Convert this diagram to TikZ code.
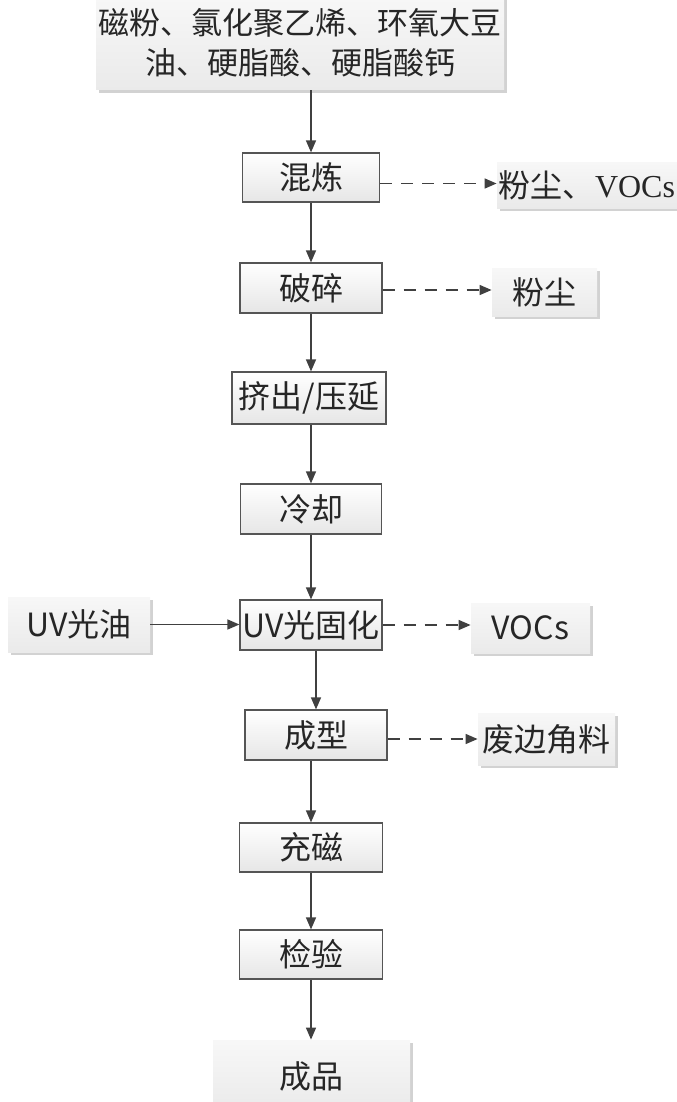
\documentclass[tikz,border=0pt]{standalone}
\usepackage{fontspec}
\setmainfont{Liberation Serif}
\newfontfamily\cjk{Noto Sans CJK SC}
\usetikzlibrary{arrows.meta,shadows}
\definecolor{edge}{HTML}{555555}
\definecolor{arrowc}{HTML}{404040}
\definecolor{shadeB}{HTML}{E6E6E6}
\definecolor{sideB}{HTML}{EAEAEA}
\definecolor{shad}{HTML}{D2D2D2}
\begin{document}
\begin{tikzpicture}[x=0.5pt,y=-0.5pt,
  every node/.style={font=\cjk\fontsize{16}{20}\selectfont,inner sep=0pt,text=black!85},
  proc/.style={draw=edge,line width=0.6pt,top color=white,bottom color=shadeB},
  side/.style={top color=white!97!black,bottom color=sideB,
    drop shadow={shadow xshift=1.5pt,shadow yshift=-1.5pt,fill=shad,opacity=1}},
  arr/.style={draw=arrowc,line width=0.7pt,-{Triangle[length=6pt,width=5pt]}},
  darr/.style={arr,dash pattern=on 6pt off 4.5pt}]
\useasboundingbox (0,0) rectangle (676,1102);
% top raw material box
\node[side,minimum width=204pt,minimum height=47pt,align=center,
  font=\cjk\fontsize{15.5}{20}\selectfont] (raw) at (300,43)
  {磁粉、氯化聚乙烯、环氧大豆\\油、硬脂酸、硬脂酸钙};
% process boxes
\node[proc,minimum width=68.5pt,minimum height=24.5pt] (mix) at (311,177.5) {混炼};
\node[proc,minimum width=71pt,minimum height=25pt] (crush) at (311,288) {破碎};
\node[proc,minimum width=77pt,minimum height=26pt] (ext) at (309,398) {挤出/压延};
\node[proc,minimum width=70.5pt,minimum height=25pt] (cool) at (311,509) {冷却};
\node[proc,minimum width=71pt,minimum height=25pt] (uv) at (311,625) {UV光固化};
\node[proc,minimum width=71pt,minimum height=25pt] (form) at (316,735) {成型};
\node[proc,minimum width=71.5pt,minimum height=24.5pt] (mag) at (311,847.5) {充磁};
\node[proc,minimum width=71.5pt,minimum height=24.5pt] (chk) at (311,954.5) {检验};
% side boxes
\node[side,minimum width=90pt,minimum height=23pt] (o1) at (587,185)
  {粉尘、{\rmfamily VOCs}};
\node[side,minimum width=52.5pt,minimum height=24pt] (o2) at (544.5,292) {粉尘};
\node[side,minimum width=71pt,minimum height=27.5pt] (uvoil) at (79,624.5) {UV光油};
\node[side,minimum width=59.5pt,minimum height=25pt] (o3) at (530.5,628) {VOCs};
\node[side,minimum width=68.5pt,minimum height=26pt] (o4) at (546.5,739) {废边角料};
\node[side,minimum width=98.5pt,minimum height=36pt] (prod) at (311.5,1076) {成品};
% main flow
\draw[arr] (mix.north |- raw.south) -- (mix.north);
\draw[arr] (mix.south) -- (mix.south |- crush.north);
\draw[arr] (crush.south) -- (crush.south |- ext.north);
\draw[arr] (cool.north |- ext.south) -- (cool.north);
\draw[arr] (cool.south) -- (cool.south |- uv.north);
\draw[arr] (form.north |- uv.south) -- (form.north);
\draw[arr] (mag.north |- form.south) -- (mag.north);
\draw[arr] (mag.south) -- (mag.south |- chk.north);
\draw[arr] (chk.south) -- (chk.south |- prod.north);
\draw[arr] (uvoil.east) -- (uvoil.east -| uv.west);
% emissions
\draw[darr] ([yshift=-3pt]mix.east) -- ([yshift=-3pt]mix.east -| o1.west);
\draw[darr] ([yshift=-1pt]crush.east) -- ([yshift=-1pt]crush.east -| o2.west);
\draw[darr] (uv.east) -- (uv.east -| o3.west);
\draw[darr] ([yshift=-2pt]form.east) -- ([yshift=-2pt]form.east -| o4.west);
\end{tikzpicture}
\end{document}
